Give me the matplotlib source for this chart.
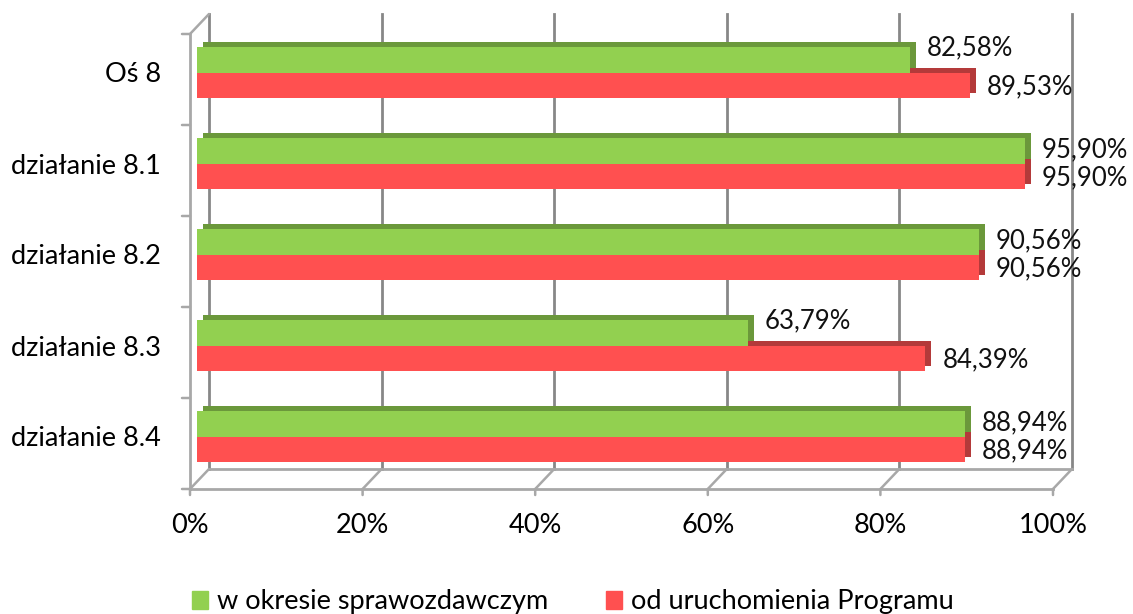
import matplotlib
matplotlib.use('Agg')
import matplotlib.pyplot as plt
import numpy as np
from matplotlib.patches import Patch, ConnectionPatch
from matplotlib.transforms import ScaledTranslation

categories = ['Oś 8', 'działanie 8.1', 'działanie 8.2', 'działanie 8.3', 'działanie 8.4']
w_okresie = [82.58, 95.90, 90.56, 63.79, 88.94]
od_uruchomienia = [89.53, 95.90, 90.56, 84.39, 88.94]
x_ticks = [0, 20, 40, 60, 80, 100]
x_labels = ['0%', '20%', '40%', '60%', '80%', '100%']
series_names = ['w okresie sprawozdawczym', 'od uruchomienia Programu']

green, green_dark = '#92d050', '#6b983b'
red, red_dark = '#ff5050', '#b43a3a'
wall = '#a8a8a8'
grid = '#878787'

plt.rcParams['font.family'] = ['Lato', 'DejaVu Sans']
fs = 19.5

fig = plt.figure(figsize=(11.33, 6.14), dpi=100)
ax = fig.add_axes([197/1133, 132/614, 863/1133, 455/614])

lo, hi = -0.5, len(categories) - 0.5
ax.set_xlim(0, 100)
ax.set_ylim(hi, lo)
for s in ax.spines.values():
    s.set_visible(False)


def shift(dx, dy):
    # offset in pixels from the plane the bars sit in (3d depth)
    return ax.transData + ScaledTranslation(dx/100, dy/100, fig.dpi_scale_trans)


front = shift(-7, -7)
back = shift(12, 13)
depth = shift(6, 5)


def link(p1, t1, p2, t2, color, lw=1.8):
    fig.add_artist(ConnectionPatch(p1, p2, coordsA=t1, coordsB=t2, color=color, lw=lw, zorder=0.5))


# back wall gridlines + floor diagonals + front ticks
for v in x_ticks:
    ax.plot([v, v], [hi, lo], color=grid, lw=2, transform=back, zorder=1, clip_on=False)
    link((v, hi), front, (v, hi), back, wall)
    link((v, hi), front, (v, hi), shift(-7, -13), wall)
ax.plot([0, 100], [hi, hi], color=wall, lw=2, transform=back, zorder=1, clip_on=False)
ax.plot([0, 100], [hi, hi], color=wall, lw=2, transform=front, zorder=1, clip_on=False)

# left wall
ax.plot([0, 0], [hi, lo], color=wall, lw=2, transform=front, zorder=1, clip_on=False)
link((0, lo), front, (0, lo), back, wall)
for b in np.arange(lo, hi + 1):
    link((0, b), shift(-15, -7), (0, b), front, wall)

# bars with a darker offset copy for the 3d faces
y = np.arange(len(categories))
h = 0.285
ax.barh(y + h/2, od_uruchomienia, h, color=red_dark, transform=depth, zorder=2)
ax.barh(y - h/2, w_okresie, h, color=green_dark, transform=depth, zorder=2.5)
ax.barh(y + h/2, od_uruchomienia, h, color=red, zorder=3)
ax.barh(y - h/2, w_okresie, h, color=green, zorder=3.5)

for i in range(len(categories)):
    g, r = w_okresie[i], od_uruchomienia[i]
    dy = 12 if g < r else 1
    ax.annotate(f'{g:.2f}%'.replace('.', ','), xy=(g, i - h/2), xytext=(17, dy),
                textcoords='offset pixels', va='center', ha='left', fontsize=18.5, color='#111111')
    ax.annotate(f'{r:.2f}%'.replace('.', ','), xy=(r, i + h/2), xytext=(17, -1),
                textcoords='offset pixels', va='center', ha='left', fontsize=18.5, color='#111111')

ax.set_yticks(y, categories)
ax.tick_params(axis='y', length=0, pad=26, labelsize=fs)
ax.set_xticks(x_ticks, x_labels)
ax.tick_params(axis='x', length=0, pad=22, labelsize=fs)
for lab in ax.get_xticklabels():
    lab.set_transform(lab.get_transform() + ScaledTranslation(-7/100, 0, fig.dpi_scale_trans))

fig.legend(handles=[Patch(color=green), Patch(color=red)], labels=series_names,
           loc='center left', bbox_to_anchor=(192/1133, 12/614), ncol=2, frameon=False,
           handlelength=0.59, handleheight=0.67, handletextpad=0.33, columnspacing=2.15,
           fontsize=fs, borderaxespad=0, borderpad=0)

fig.savefig('out.png', dpi=100)
